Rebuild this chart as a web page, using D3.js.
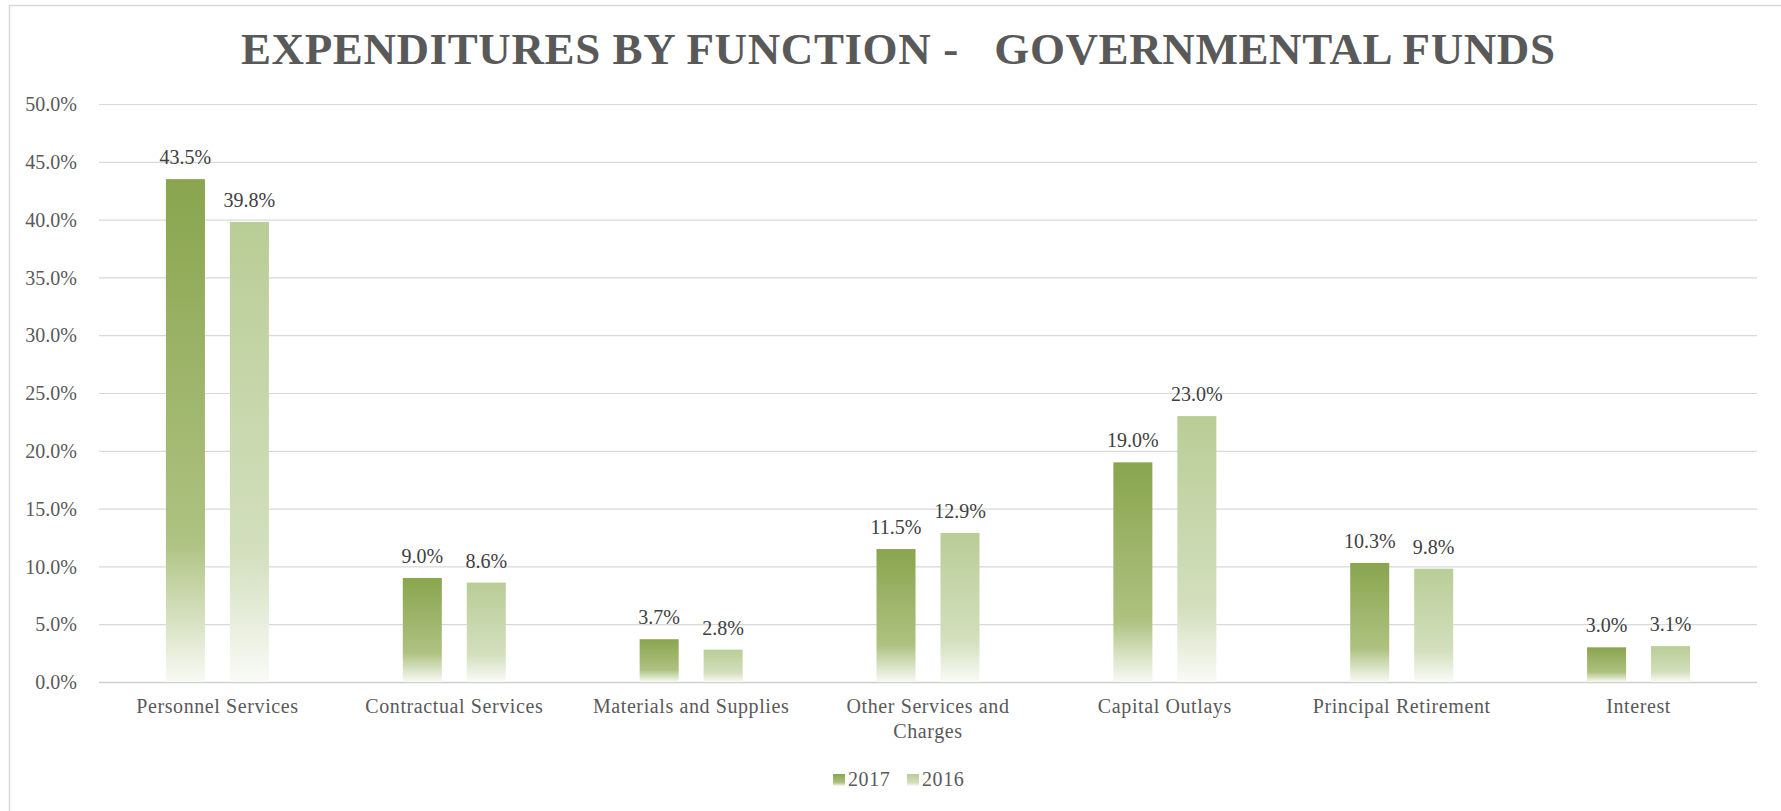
<!DOCTYPE html>
<html>
<head>
<meta charset="utf-8">
<script src="https://cdn.jsdelivr.net/npm/d3@7"></script>
<style>
  html, body { margin: 0; padding: 0; background: #ffffff; }
  svg { display: block; }
  text { font-family: "Liberation Serif", "Times New Roman", serif; }
</style>
</head>
<body>
<svg id="chart" width="1781" height="811"></svg>
<script>
// ---- data ----
const title = "EXPENDITURES BY FUNCTION -   GOVERNMENTAL FUNDS";
const categories = ["Personnel Services", "Contractual Services", "Materials and Supplies",
  "Other Services and Charges", "Capital Outlays", "Principal Retirement", "Interest"];
const seriesNames = ["2017", "2016"];
const values2017 = [43.5, 9.0, 3.7, 11.5, 19.0, 10.3, 3.0];
const values2016 = [39.8, 8.6, 2.8, 12.9, 23.0, 9.8, 3.1];
const yTicks = [0, 5, 10, 15, 20, 25, 30, 35, 40, 45, 50];
const seriesColors = {
  "2017": ["#89a54e", "#aec281", "#f8faf4"],
  "2016": ["#b9cd96", "#d3dfbd", "#fafbf7"]
};

const seriesValues = { "2017": values2017, "2016": values2016 };

// ---- layout ----
const svg = d3.select("#chart");
const W = 1781, H = 811;
const plot = { left: 99, right: 1757, top: 104, bottom: 682 };

// outer chart border
svg.append("rect")
  .attr("x", 9.5).attr("y", 5.5)
  .attr("width", W + 20).attr("height", H + 20)
  .attr("fill", "#ffffff").attr("stroke", "#d9d9d9").attr("stroke-width", 1.5);

// gradients
const defs = svg.append("defs");
seriesNames.forEach((s, i) => {
  const g = defs.append("linearGradient")
    .attr("id", "grad" + i)
    .attr("x1", 0).attr("y1", 0).attr("x2", 0).attr("y2", 1);
  g.append("stop").attr("offset", "0%").attr("stop-color", seriesColors[s][0]);
  g.append("stop").attr("offset", "72%").attr("stop-color", seriesColors[s][1]);
  g.append("stop").attr("offset", "100%").attr("stop-color", seriesColors[s][2]);
});

const x0 = d3.scaleBand().domain(categories).range([plot.left, plot.right]).padding(0);
const groupW = 103;
const x1 = d3.scaleBand().domain(seriesNames)
  .range([(x0.bandwidth() - groupW) / 2, (x0.bandwidth() + groupW) / 2])
  .paddingInner(0.39).paddingOuter(0);
const y = d3.scaleLinear().domain([0, 50]).range([plot.bottom, plot.top]);

// title
svg.append("text")
  .attr("x", 241).attr("y", 64)
  .attr("font-size", 45).attr("font-weight", "bold")
  .attr("letter-spacing", "0.6px")
  .attr("fill", "#595959")
  .style("white-space", "pre")
  .attr("xml:space", "preserve")
  .text(title);

// gridlines
svg.append("g").selectAll("line")
  .data(yTicks)
  .join("line")
  .attr("x1", plot.left).attr("x2", plot.right)
  .attr("y1", d => y(d) + 0.5).attr("y2", d => y(d) + 0.5)
  .attr("stroke", d => d === 0 ? "#d0d0d0" : "#d9d9d9")
  .attr("stroke-width", d => d === 0 ? 1.5 : 1.2);

// y axis labels
const yAxis = d3.axisLeft(y).tickValues(yTicks).tickSize(0).tickPadding(0)
  .tickFormat(d => d3.format(".1f")(d) + "%");
const yg = svg.append("g").attr("transform", `translate(77,0)`).call(yAxis);
yg.select(".domain").remove();
yg.selectAll("text")
  .attr("font-family", "Liberation Serif, Times New Roman, serif")
  .attr("font-size", 20).attr("fill", "#595959")
  .attr("dy", "0.33em");

// bars
const groups = svg.append("g").selectAll("g")
  .data(categories)
  .join("g")
  .attr("transform", d => `translate(${x0(d)},0)`);

groups.selectAll("rect")
  .data((c, ci) => seriesNames.map((s, si) => ({ s, si, v: seriesValues[s][ci] })))
  .join("rect")
  .attr("x", d => x1(d.s))
  .attr("width", x1.bandwidth())
  .attr("y", d => y(d.v))
  .attr("height", d => y(0) - y(d.v))
  .attr("fill", d => `url(#grad${d.si})`);

groups.selectAll("text.lbl")
  .data((c, ci) => seriesNames.map((s, si) => ({ s, si, v: seriesValues[s][ci] })))
  .join("text")
  .attr("class", "lbl")
  .attr("x", d => x1(d.s) + x1.bandwidth() / 2)
  .attr("y", d => y(d.v) - 15)
  .attr("text-anchor", "middle")
  .attr("font-size", 20)
  .attr("fill", "#404040")
  .text(d => d3.format(".1f")(d.v) + "%");

// x axis labels (wrapped)
const xg = svg.append("g");
categories.forEach(c => {
  const t = xg.append("text")
    .attr("x", x0(c) + x0.bandwidth() / 2)
    .attr("y", 713)
    .attr("text-anchor", "middle")
    .attr("font-size", 20)
    .attr("letter-spacing", "0.6px")
    .attr("fill", "#595959");
  const words = c.split(" ");
  let line = [];
  let tspan = t.append("tspan").attr("x", x0(c) + x0.bandwidth() / 2).attr("dy", 0);
  words.forEach(w => {
    line.push(w);
    tspan.text(line.join(" "));
    if (tspan.node().getComputedTextLength() > 200 && line.length > 1) {
      line.pop();
      tspan.text(line.join(" "));
      line = [w];
      tspan = t.append("tspan").attr("x", x0(c) + x0.bandwidth() / 2).attr("dy", 25).text(w);
    }
  });
});

// legend
const legend = svg.append("g");
const legendX = [833, 907];
seriesNames.forEach((s, i) => {
  legend.append("rect")
    .attr("x", legendX[i]).attr("y", 774)
    .attr("width", 12).attr("height", 12)
    .attr("fill", `url(#grad${i})`);
  legend.append("text")
    .attr("x", legendX[i] + 15).attr("y", 786)
    .attr("font-size", 20).attr("letter-spacing", "0.6px")
    .attr("fill", "#595959")
    .text(s);
});
</script>
</body>
</html>
